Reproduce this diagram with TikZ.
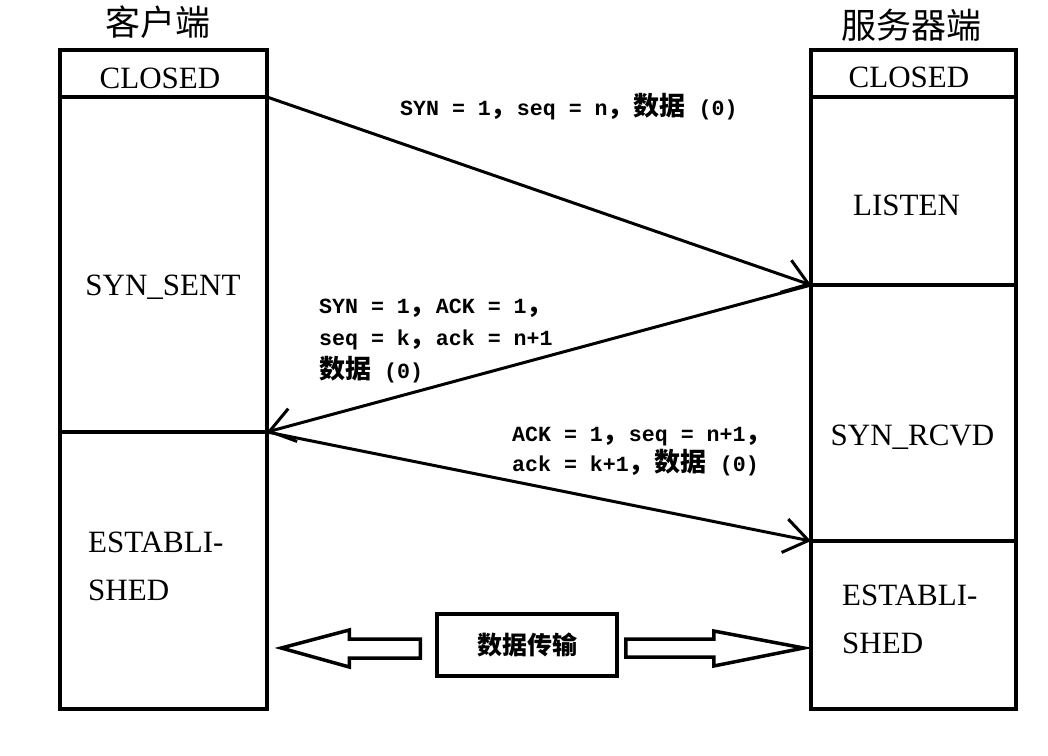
\documentclass[tikz,border=0pt]{standalone}
\usepackage{fontspec}
\setmainfont{Liberation Serif}
\setmonofont{Liberation Mono}
\newfontfamily\cjk{Noto Sans CJK SC}
\usetikzlibrary{arrows.meta}
\newcommand\zh[1]{{\cjk\bfseries\fontsize{26}{32}\selectfont #1}}
\begin{document}
\begin{tikzpicture}[x=1pt,y=-1pt,
  cell/.style={draw, line width=4pt, inner sep=0pt, outer sep=0pt},
  lcell/.style={cell, minimum width=207pt},
  rcell/.style={cell, minimum width=205pt},
  state/.style={font=\fontsize{31}{48}\selectfont, inner sep=0pt, anchor=base},
  title/.style={font=\cjk\fontsize{35}{35}\selectfont, inner sep=0pt, anchor=base},
  msg/.style={font=\fontsize{21.6}{32.5}\selectfont\ttfamily\bfseries, align=left, inner sep=0pt, anchor=base west},
  msgarrow/.style={line width=3pt, -{Straight Barb[length=24pt,width=34pt]}},
  hollow/.style={draw, line width=3.5pt, line join=miter, fill=white}]
\fill[white] (0,0) rectangle (1048,755);
\useasboundingbox (0,0) rectangle (1048,755);

% titles
\node[title] (ctitle) at (157.5,35) {客户端};
\node[title] (stitle) at (911,38) {服务器端};

% client column
\node[lcell, minimum height=47pt]  (cclosed) at (163.5,73.5) {};
\node[lcell, minimum height=335pt] (csent)   at (163.5,264.5) {};
\node[lcell, minimum height=277pt] (cest)    at (163.5,570.5) {};

% server column
\node[rcell, minimum height=47pt]  (sclosed) at (913.5,73.5) {};
\node[rcell, minimum height=188pt] (slisten) at (913.5,191) {};
\node[rcell, minimum height=256pt] (srcvd)   at (913.5,413) {};
\node[rcell, minimum height=168pt] (sest)    at (913.5,625) {};

% state texts (multi-line nodes: base = last line)
\node[state] (tcclosed) at (160,88) {CLOSED};
\node[state] (tcsent) at (163,295) {SYN\_SENT};
\node[state, anchor=base west, align=left] (tcest) at (88,600) {ESTABLI-\\SHED};
\node[state] (tsclosed) at (909,87) {CLOSED};
\node[state] (tslisten) at (906.5,215) {LISTEN};
\node[state] (tsrcvd) at (912.5,445) {SYN\_RCVD};
\node[state, anchor=base west, align=left] (tsest) at (842,653) {ESTABLI-\\SHED};

% handshake messages
\draw[msgarrow] (cclosed.south east) -- (slisten.south west);
\draw[msgarrow] (slisten.south west) -- (csent.south east);
\draw[msgarrow] (csent.south east) -- (srcvd.south west);

\node[msg] (m1) at (400,115) {SYN = 1\zh{，}seq = n\zh{，数据} (0)};
\node[msg] (m2) at (319,378) {SYN = 1\zh{，}ACK = 1\zh{，}\\seq = k\zh{，}ack = n+1\\\zh{数据} (0)};
\node[msg, font=\fontsize{21.6}{29.5}\selectfont\ttfamily\bfseries] (m3) at (512,471) {ACK = 1\zh{，}seq = n+1\zh{，}\\ack = k+1\zh{，数据} (0)};

% data transfer
\node[draw, line width=3.5pt, minimum width=180pt, minimum height=62pt, inner sep=0pt,
      font=\cjk\bfseries\fontsize{25}{25}\selectfont] (data) at (527,645) {数据传输};
\begin{scope}[shift={(data.west)}]
  \draw[hollow] (-15,-6) -- (-86,-6) -- (-86,-15) -- (-154,3) -- (-86,22) -- (-86,13) -- (-15,13) -- cycle;
\end{scope}
\begin{scope}[shift={(data.east)}]
  \draw[hollow] (7,-6) -- (95,-6) -- (95,-14) -- (185,3) -- (95,21) -- (95,12) -- (7,12) -- cycle;
\end{scope}
\end{tikzpicture}
\end{document}
